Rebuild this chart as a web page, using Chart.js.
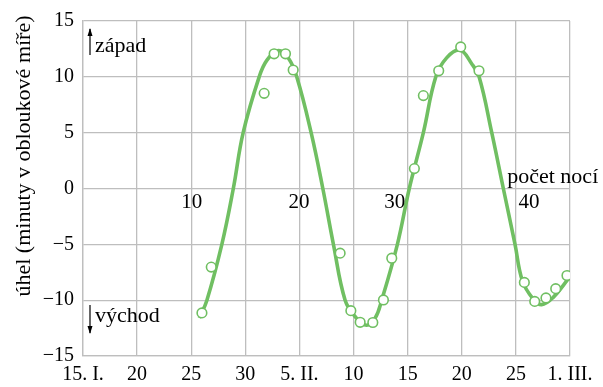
<!DOCTYPE html>
<html lang="cs">
<head>
<meta charset="utf-8">
<title>úhel</title>
<script src="https://cdn.jsdelivr.net/npm/chart.js@4/dist/chart.umd.min.js"></script>
<style>
  html, body { margin: 0; padding: 0; background: #fff; }
  #wrap { width: 603px; height: 387px; }
</style>
</head>
<body>
<div id="wrap"><canvas id="graf"></canvas></div>
<script>
// Data (x = dny od 15. ledna, y = úhel v minutách)
const xTickValues = [0, 5, 10, 15, 20, 25, 30, 35, 40, 45];
const xTickLabels = ['15. I.', '20', '25', '30', '5. II.', '10', '15', '20', '25', '1. III.'];
const yTickValues = [-15, -10, -5, 0, 5, 10, 15];
const yTickLabels = ['\u221215', '\u221210', '\u22125', '0', '5', '10', '15'];

// Naměřené body
const obsDays = [10.99, 11.85, 16.74, 17.66, 18.71, 19.42, 23.76, 24.75, 25.61, 26.78, 27.76,
  28.53, 30.62, 31.45, 32.87, 34.9, 36.59, 40.78, 41.74, 42.78, 43.68, 44.72];
const obsAngles = [-11.14, -7.04, 8.52, 12.06, 12.06, 10.61, -5.79, -10.94, -11.98, -12.0, -9.98,
  -6.24, 1.78, 8.32, 10.54, 12.68, 10.54, -8.41, -10.11, -9.8, -8.97, -7.79];

// Proložená křivka
const fitDays = [10.75, 11.45, 12.83, 13.89, 14.8, 16.28, 17.0, 18.06, 19.0, 19.75, 21.08, 22.16,
  23.14, 24.22, 25.2, 26.2, 27.0, 27.6, 29.05, 30.15, 31.45, 32.6, 33.6, 34.84, 35.9, 36.6,
  37.77, 38.84, 39.92, 40.6, 41.6, 42.38, 43.45, 44.84];
const fitAngles = [-11.6, -10, -5, 0, 5, 10, 11.5, 12.35, 11.64, 10, 5, 0,
  -5, -10, -11.53, -12.25, -11.6, -10, -5, 0, 5, 10, 11.7, 12.4, 11.2, 10,
  5, 0, -5, -8.26, -9.9, -10.4, -9.75, -8.1];

// Popisky počtu nocí
const nightLabels = ['10', '20', '30', '40'];
const nightDays = [10.06, 19.97, 28.8, 41.2];
const nightAngle = -1.25;

const GREEN = '#70bf62';
const GRID = '#bebebe';
const FONT = "'Liberation Serif', 'DejaVu Serif', serif";

const popisky = {
  id: 'popisky',
  afterDraw(chart) {
    const ctx = chart.ctx;
    const xs = chart.scales.x;
    const ys = chart.scales.y;
    const area = chart.chartArea;
    ctx.save();
    ctx.fillStyle = '#000';
    ctx.strokeStyle = '#000';

    // počet nocí
    ctx.font = '21px ' + FONT;
    ctx.textAlign = 'center';
    ctx.textBaseline = 'middle';
    nightLabels.forEach((t, i) => {
      ctx.fillText(t, xs.getPixelForValue(nightDays[i]), ys.getPixelForValue(nightAngle));
    });
    ctx.font = '22px ' + FONT;
    ctx.textAlign = 'left';
    ctx.textBaseline = 'alphabetic';
    ctx.fillText('počet nocí', xs.getPixelForValue(39.2), ys.getPixelForValue(0.47));

    // šipky západ / východ
    const ax = area.left + 7;
    ctx.lineWidth = 1.2;
    const arrow = (y1, y2) => {
      const dir = Math.sign(y2 - y1);
      ctx.beginPath();
      ctx.moveTo(ax, y1);
      ctx.lineTo(ax, y2);
      ctx.stroke();
      ctx.beginPath();
      ctx.moveTo(ax, y2 + dir);
      ctx.lineTo(ax - 2.5, y2 - dir * 7);
      ctx.lineTo(ax + 2.5, y2 - dir * 7);
      ctx.closePath();
      ctx.fill();
    };
    arrow(area.top + 34, area.top + 8);
    arrow(area.bottom - 51, area.bottom - 23);
    ctx.fillText('západ', ax + 5, area.top + 31);
    ctx.fillText('východ', ax + 5, area.bottom - 34);

    // popis osy y
    ctx.translate(24.5, 156);
    ctx.rotate(-Math.PI / 2);
    ctx.textAlign = 'center';
    ctx.textBaseline = 'middle';
    ctx.fillText('úhel (minuty v obloukové míře)', 0, 0);
    ctx.restore();
  }
};

const App = {
  init() {
    const ctx = document.getElementById('graf').getContext('2d');
    new Chart(ctx, {
      type: 'scatter',
      data: {
        datasets: [{
          label: 'měření',
          data: obsDays.map((d, i) => ({ x: d, y: obsAngles[i] })),
          pointRadius: 4.8,
          pointBorderWidth: 1.6,
          pointBackgroundColor: '#fff',
          pointBorderColor: GREEN,
          order: 0
        }, {
          label: 'křivka',
          data: fitDays.map((d, i) => ({ x: d, y: fitAngles[i] })),
          showLine: true,
          borderColor: GREEN,
          borderWidth: 3.6,
          pointRadius: 0,
          tension: 0.4,
          order: 1
        }]
      },
      options: {
        responsive: true,
        maintainAspectRatio: false,
        animation: false,
        layout: { padding: { top: 19, right: 33, left: 0, bottom: 0 } },
        plugins: {
          legend: { display: false },
          tooltip: { enabled: false }
        },
        scales: {
          x: {
            type: 'linear',
            min: 0,
            max: 45,
            afterBuildTicks: s => { s.ticks = xTickValues.map(v => ({ value: v })); },
            afterFit: s => { s.height = 31; },
            grid: { color: GRID, lineWidth: 1.3, drawTicks: false },
            border: { color: GRID, width: 1.3 },
            ticks: {
              padding: 7,
              color: '#000',
              font: { family: FONT, size: 20 },
              maxRotation: 0,
              autoSkip: false,
              callback: v => xTickLabels[xTickValues.indexOf(v)]
            }
          },
          y: {
            min: -15,
            max: 15,
            afterBuildTicks: s => { s.ticks = yTickValues.map(v => ({ value: v })); },
            afterFit: s => { s.width = 83; },
            grid: { color: GRID, lineWidth: 1.3, drawTicks: false },
            border: { color: GRID, width: 1.3 },
            ticks: {
              padding: 9,
              color: '#000',
              font: { family: FONT, size: 20 },
              callback: v => yTickLabels[yTickValues.indexOf(v)]
            }
          }
        }
      },
      plugins: [popisky]
    });
  }
};

document.addEventListener('DOMContentLoaded', () => {
  App.init();
});
</script>
</body>
</html>
